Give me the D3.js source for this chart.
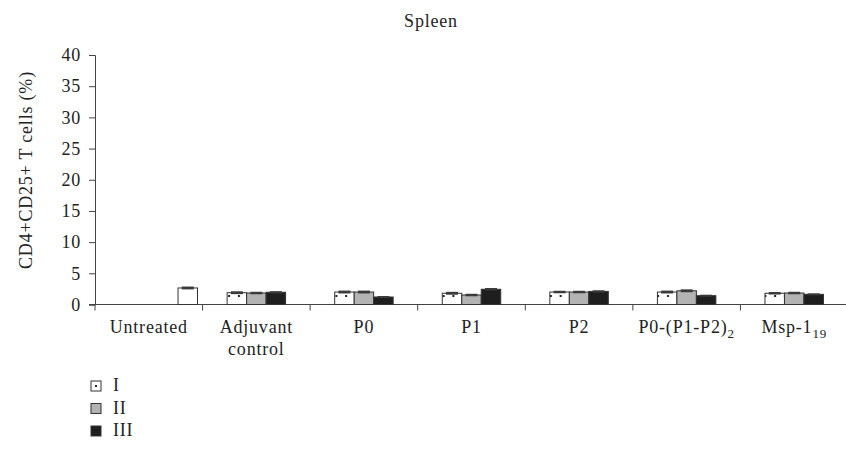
<!DOCTYPE html>
<html>
<head>
<meta charset="utf-8">
<script src="https://cdn.jsdelivr.net/npm/d3@7"></script>
<style>
  body { margin: 0; background: #fff; }
  text { font-family: "Liberation Serif", "DejaVu Serif", serif; fill: #222; letter-spacing: 0.8px; }
</style>
</head>
<body>
<script>
var categories = ["Untreated", "Adjuvant control", "P0", "P1", "P2", "P0-(P1-P2)2", "Msp-119"];
var seriesNames = ["I", "II", "III"];
var valuesI   = [null, 1.89, 2.0, 1.8, 2.0, 2.0, 1.8];
var valuesII  = [null, 1.84, 2.0, 1.52, 2.0, 2.2, 1.84];
var valuesIII = [null, 1.96, 1.2, 2.44, 2.1, 1.41, 1.63];
var errorsI   = [null, 0.15, 0.15, 0.15, 0.12, 0.15, 0.12];
var errorsII  = [null, 0.12, 0.15, 0.12, 0.12, 0.15, 0.12];
var errorsIII = [null, 0.1, 0.08, 0.12, 0.1, 0.08, 0.08];
// untreated group only has one plain bar
var untreatedValue = 2.65;
var untreatedError = 0.15;
var yTicks = [0, 5, 10, 15, 20, 25, 30, 35, 40];

var width = 846, height = 460;
var svg = d3.select("body").append("svg").attr("width", width).attr("height", height);

var defs = svg.append("defs");
var pat = defs.append("pattern").attr("id", "dots")
  .attr("patternUnits", "userSpaceOnUse").attr("width", 9.75).attr("height", 10);
pat.append("rect").attr("width", 9.75).attr("height", 10).attr("fill", "#fff");
pat.append("rect").attr("x", 3.9).attr("y", 5).attr("width", 2).attr("height", 2).attr("fill", "#222");

var fills = { "I": "url(#dots)", "II": "#b3b3b3", "III": "#1e1e1e" };

var x = d3.scaleBand().domain(categories).range([95, 848]).padding(0);
var xSub = d3.scaleBand().domain(seriesNames).range([0, x.bandwidth()]).paddingInner(0).paddingOuter(1.26);
var y = d3.scaleLinear().domain([0, 40]).range([304.5, 55]);

// y axis
var yAxis = svg.append("g").attr("transform", "translate(95,0)")
  .call(d3.axisLeft(y).tickValues(yTicks).tickSize(6).tickPadding(8));
yAxis.select(".domain").attr("stroke", "#444");
yAxis.selectAll(".tick line").attr("stroke", "#444");
yAxis.selectAll("text").attr("font-size", "18px").attr("font-family", "Liberation Serif, serif").attr("fill", "#222");

// x axis line and ticks at group boundaries
svg.append("line").attr("x1", 89).attr("x2", 846).attr("y1", y(0)).attr("y2", y(0)).attr("stroke", "#444");
svg.selectAll("line.xtick").data(categories).enter().append("line")
  .attr("class", "xtick")
  .attr("x1", function (d) { return x(d); }).attr("x2", function (d) { return x(d); })
  .attr("y1", y(0)).attr("y2", y(0) + 6).attr("stroke", "#444");

// bars
var barData = [];
categories.forEach(function (c, i) {
  [valuesI, valuesII, valuesIII].forEach(function (vals, s) {
    var errs = [errorsI, errorsII, errorsIII][s];
    if (vals[i] != null) barData.push({ cat: c, s: seriesNames[s], v: vals[i], e: errs[i] });
  });
});

var bars = svg.append("g");
bars.selectAll("rect.bar").data(barData).enter().append("rect")
  .attr("class", "bar")
  .attr("x", function (d) { return x(d.cat) + xSub(d.s); })
  .attr("y", function (d) { return y(d.v); })
  .attr("width", xSub.bandwidth())
  .attr("height", function (d) { return y(0) - y(d.v); })
  .attr("fill", function (d) { return fills[d.s]; })
  .attr("stroke", "#333").attr("stroke-width", 1);

var ux = x("Untreated") + xSub("III") + xSub.step();
bars.append("rect")
  .attr("x", ux).attr("y", y(untreatedValue))
  .attr("width", xSub.bandwidth()).attr("height", y(0) - y(untreatedValue))
  .attr("fill", "#fff").attr("stroke", "#333");

// error bars (short thick caps)
var errData = barData.map(function (d) {
  return { cx: x(d.cat) + xSub(d.s) + xSub.bandwidth() / 2, v: d.v, e: d.e };
});
errData.push({ cx: ux + xSub.bandwidth() / 2, v: untreatedValue, e: untreatedError });
bars.selectAll("rect.err").data(errData).enter().append("rect")
  .attr("class", "err")
  .attr("x", function (d) { return d.cx - 6; })
  .attr("y", function (d) { return y(d.v + d.e) - 0.5; })
  .attr("width", 12)
  .attr("height", function (d) { return y(d.v - d.e) - y(d.v + d.e) + 1; })
  .attr("fill", "#3a3a3a");

// category labels
var labelG = svg.append("g");
function catLabel(d) {
  var t = labelG.append("text")
    .attr("x", x(d) + x.bandwidth() / 2).attr("y", 333)
    .attr("text-anchor", "middle").attr("font-size", "18px");
  if (d === "Adjuvant control") {
    t.append("tspan").attr("x", x(d) + x.bandwidth() / 2).text("Adjuvant");
    t.append("tspan").attr("x", x(d) + x.bandwidth() / 2).attr("dy", 22).text("control");
  } else if (d === "P0-(P1-P2)2") {
    t.append("tspan").text("P0-(P1-P2)");
    t.append("tspan").attr("dy", 5).attr("font-size", "13px").text("2");
  } else if (d === "Msp-119") {
    t.append("tspan").text("Msp-1");
    t.append("tspan").attr("dy", 5).attr("font-size", "13px").text("19");
  } else {
    t.text(d);
  }
}
categories.forEach(catLabel);

// title
svg.append("text").attr("x", 431).attr("y", 27).attr("text-anchor", "middle")
  .attr("font-size", "18px").text("Spleen");

// y axis title
svg.append("text").attr("transform", "translate(32,170) rotate(-90)")
  .attr("text-anchor", "middle").attr("font-size", "18px")
  .text("CD4+CD25+ T cells (%)");

// legend
var legend = svg.append("g").selectAll("g").data(seriesNames).enter().append("g")
  .attr("transform", function (d, i) { return "translate(91," + (381 + i * 22.5) + ")"; });
legend.append("rect").attr("width", 10).attr("height", 10)
  .attr("fill", function (d) { return d === "I" ? "#fff" : fills[d]; })
  .attr("stroke", "#333");
legend.filter(function (d) { return d === "I"; }).append("rect")
  .attr("x", 4).attr("y", 4).attr("width", 2).attr("height", 2).attr("fill", "#222");
legend.append("text").attr("x", 22).attr("y", 10).attr("font-size", "18px")
  .text(function (d) { return d; });
</script>
</body>
</html>
